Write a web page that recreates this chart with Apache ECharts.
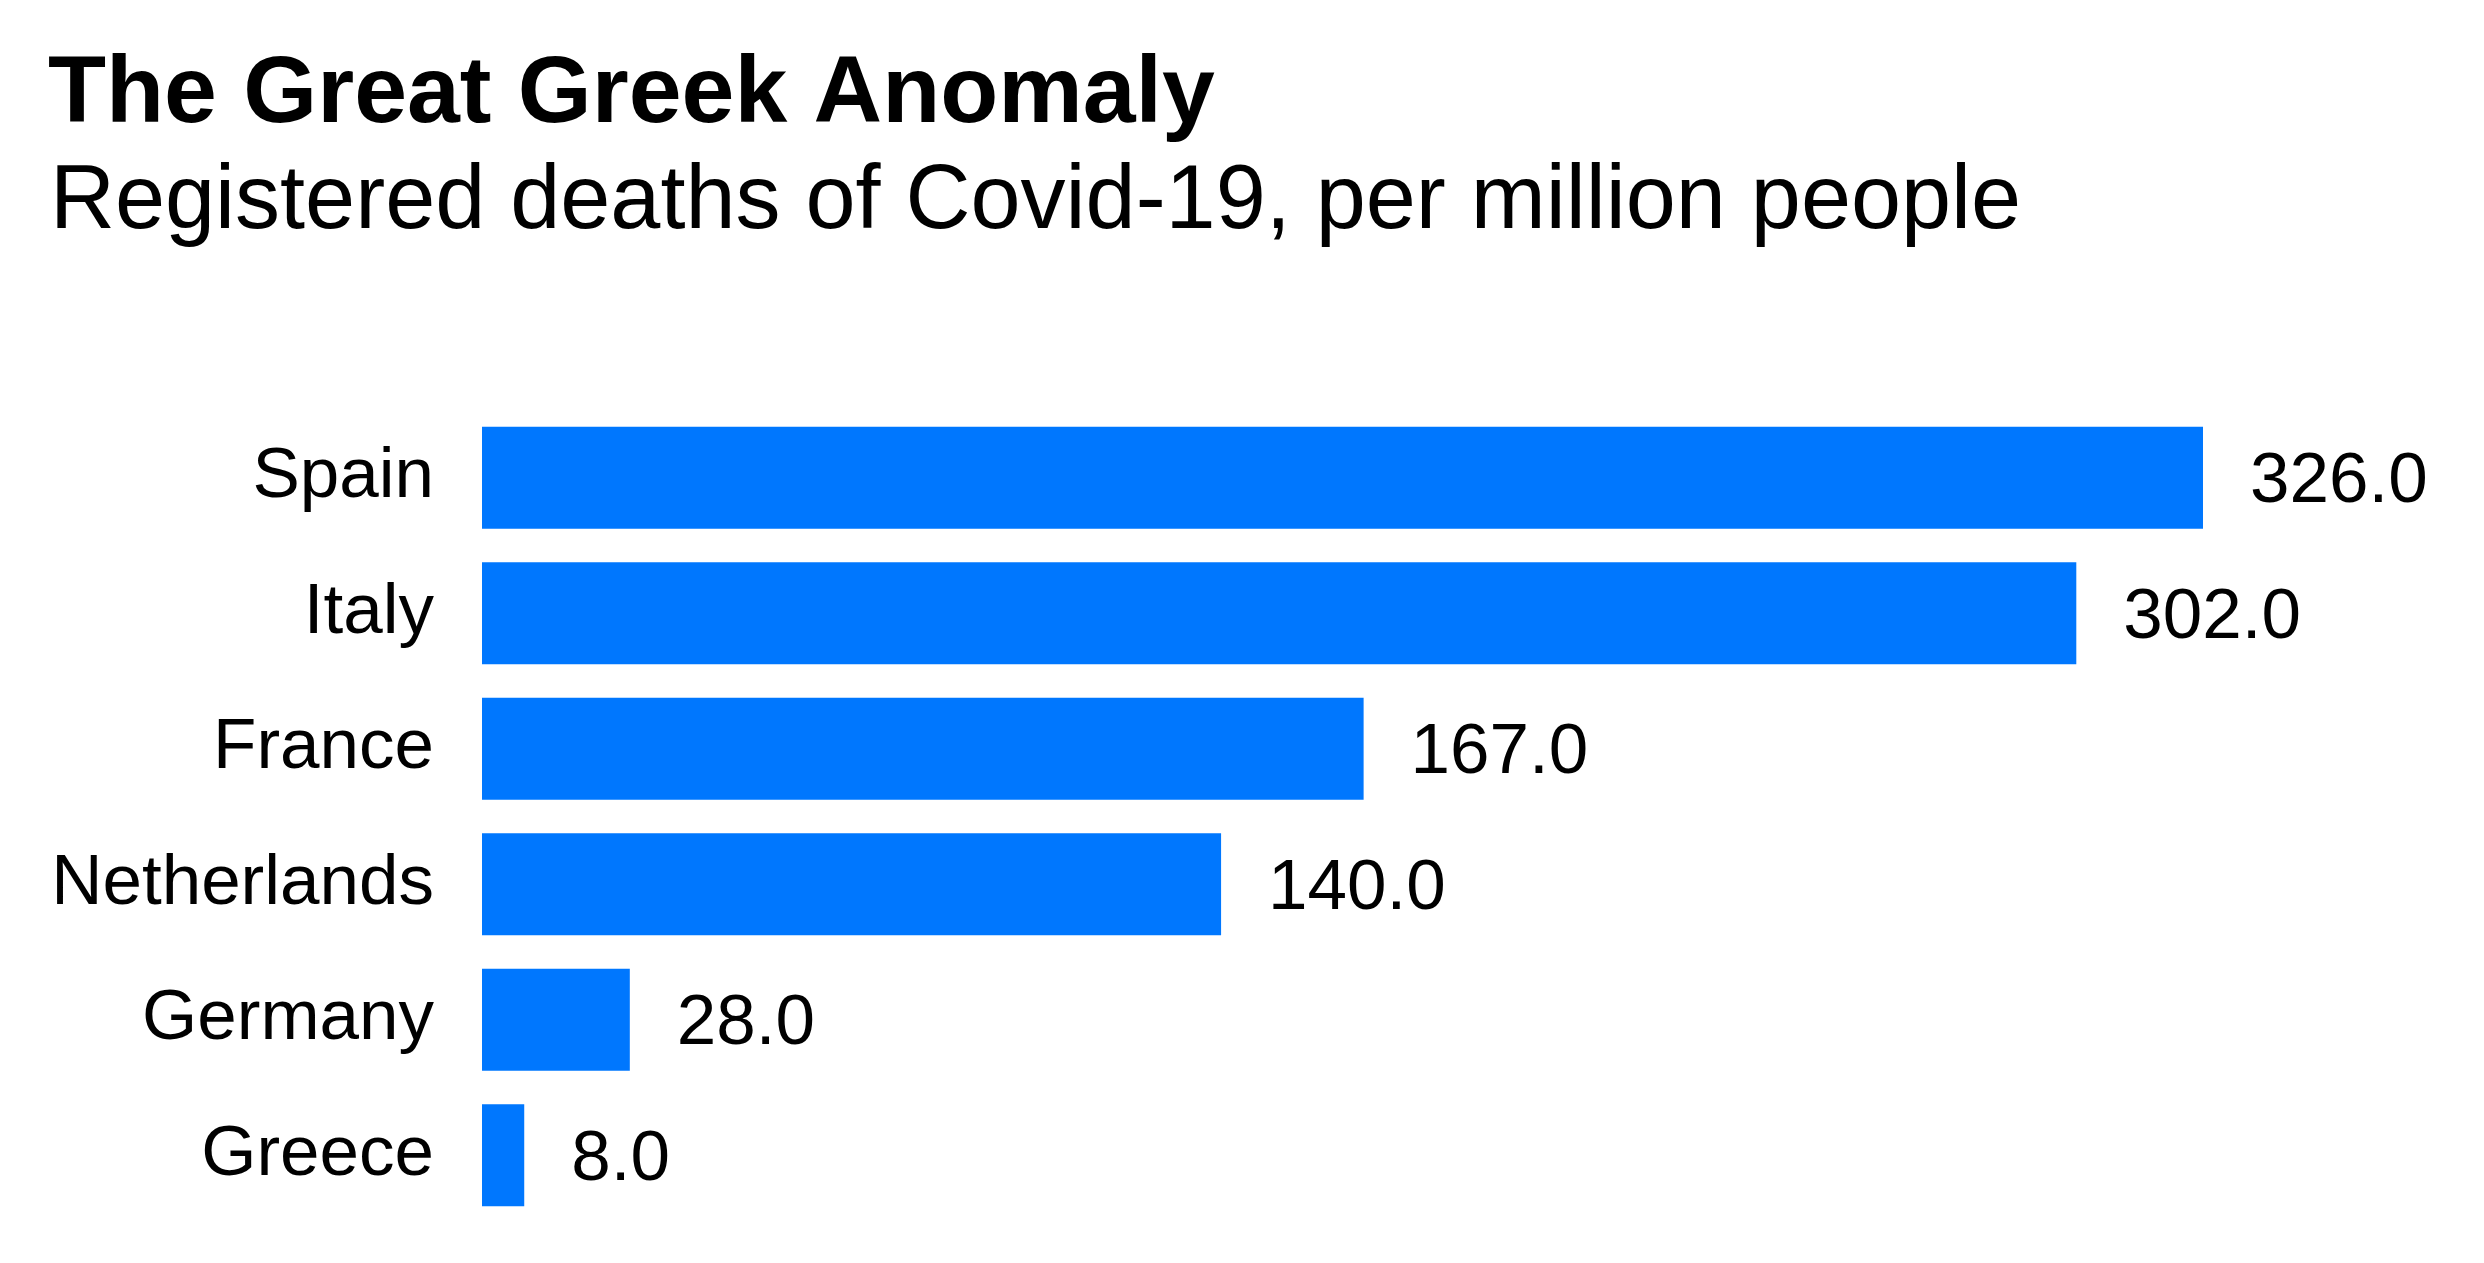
<!DOCTYPE html>
<html>
<head>
<meta charset="utf-8">
<script src="https://cdn.jsdelivr.net/npm/echarts@6/dist/echarts.min.js"></script>
<style>
html,body{margin:0;padding:0;background:#fff;}
#chart{width:2484px;height:1263px;}
</style>
</head>
<body>
<div id="chart"></div>
<script>
const countries = ['Spain', 'Italy', 'France', 'Netherlands', 'Germany', 'Greece'];
const deathsPerMillion = [326.0, 302.0, 167.0, 140.0, 28.0, 8.0];
const titleText = 'The Great Greek Anomaly';
const subtitleText = 'Registered deaths of Covid-19, per million people';

const chart = echarts.init(document.getElementById('chart'));
const font = 'Liberation Sans, Arial, sans-serif';
chart.setOption({
  backgroundColor: '#ffffff',
  animation: false,
  title: [
    {
      text: titleText, left: 48, top: 48, padding: 0,
      textStyle: { fontFamily: font, fontSize: 95, fontWeight: 'bold', color: '#000', lineHeight: 95 }
    },
    {
      text: subtitleText, left: 50, top: 158, padding: 0,
      textStyle: { fontFamily: font, fontSize: 90, fontWeight: 'normal', color: '#000', lineHeight: 90 }
    }
  ],
  grid: { left: 482, right: 281, top: 410, bottom: 40, containLabel: false },
  xAxis: {
    type: 'value', min: 0, max: 'dataMax', show: false,
    splitLine: { show: false }
  },
  yAxis: {
    type: 'category', data: countries, inverse: true,
    axisLine: { show: false }, axisTick: { show: false }, splitLine: { show: false },
    axisLabel: { margin: 48, fontFamily: font, fontSize: 71, color: '#000' }
  },
  series: [{
    type: 'bar',
    data: deathsPerMillion,
    barWidth: 102,
    itemStyle: { color: '#0077FE' },
    label: {
      show: true, position: 'right', distance: 47, offset: [0, 5],
      fontFamily: font, fontSize: 71, color: '#000',
      formatter: p => p.value.toFixed(1)
    }
  }]
});
</script>
</body>
</html>
